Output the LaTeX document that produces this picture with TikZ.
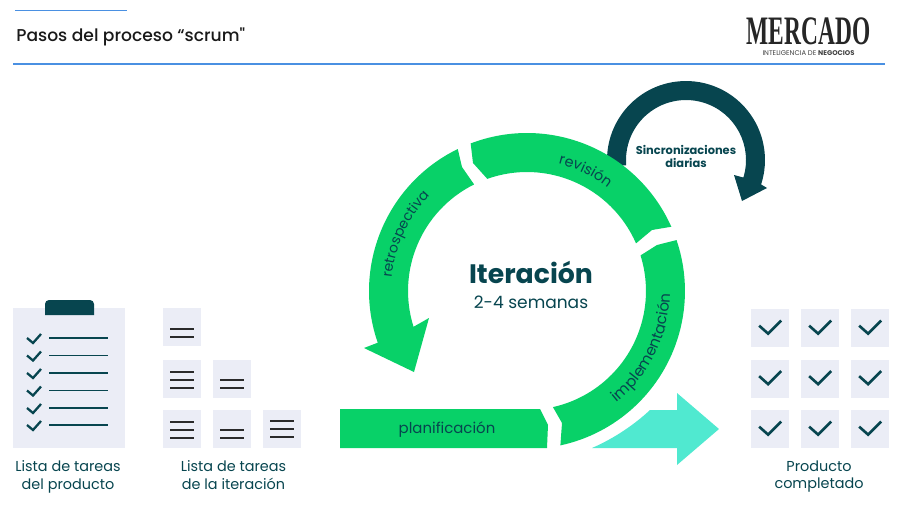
\documentclass[tikz,border=0pt]{standalone}
\usepackage{fontspec}
\setmainfont{Poppins}
\newfontfamily\logofont{Liberation Serif}
\newfontfamily\mediumfont{Poppins Medium}
\usetikzlibrary{positioning,calc,decorations.text}
\definecolor{ringgreen}{HTML}{08D168}
\definecolor{darkteal}{HTML}{07454F}
\definecolor{aquaarrow}{HTML}{50E9D0}
\definecolor{tilegray}{HTML}{EBEDF6}
\definecolor{ruleblue}{HTML}{4A90E2}
\definecolor{bardark}{HTML}{2A2A2A}
\tikzset{
  tile/.style={rectangle,fill=tilegray,inner sep=0pt,minimum size=0.76cm},
  headrule/.style={draw=ruleblue,line width=1pt},
  tickmark/.style={draw=darkteal,line width=1.5pt,line join=miter},
  smalltick/.style={draw=darkteal,line width=1.3pt},
  listline/.style={draw=darkteal,line width=1pt},
  barline/.style={draw=bardark,line width=1pt},
  caption/.style={font=\fontsize{8.2}{10.2}\selectfont,text=darkteal,align=center,inner sep=0pt},
  ringlabel/.style={font=\fontsize{8.5}{9}\selectfont,text=darkteal,inner sep=0pt},
  ringtext/.style 2 args={decorate,decoration={text along path,text align=center,text={|\fontsize{#1}{9}\selectfont\color{darkteal}|#2}}},
}
\begin{document}
\begin{tikzpicture}[x=0.02cm,y=0.02cm]
  \useasboundingbox (0,0) rectangle (900,-521);
  % header
  \draw[headrule] (15,-10.5) -- (127,-10.5);
  \draw[headrule] (13,-64) -- (885,-64);
  \node[anchor=base west,inner sep=0pt,font=\mediumfont\fontsize{9.75}{11}\selectfont,text=black!90] (title) at (16,-41) {Pasos del proceso “scrum"};
  \node[xscale=0.58,inner sep=0pt,font=\logofont\fontsize{23}{24}\selectfont\bfseries,text=black!85] (logo) at (808.5,-31) {MERCADO};
  \node[below=3pt of logo,inner sep=0pt,font=\fontsize{3.9}{4}\selectfont,text=black!75] (sublogo) {INTELIGENCIA DE \textbf{NEGOCIOS}};
  % clipboard
  \fill[tilegray] (13,-308) rectangle (125,-448);
  \fill[darkteal] (45,-315) -- (45,-304) arc[start angle=180,end angle=90,radius=0.08cm] -- (90,-300)
    arc[start angle=90,end angle=0,radius=0.08cm] -- (94,-315) -- cycle;
  \coordinate (clip) at (68,-449);
  \foreach \rowy in {338,355.5,373,390.5,408,425}{
    \draw[smalltick] (27,-\rowy) -- (33,-\rowy-5) -- (41,-\rowy+4);
    \draw[listline] (49,-\rowy) -- (108,-\rowy);
  }
  \node[caption,below=0.22cm of clip] (backlog) {Lista de tareas\\del producto};
  % iteration tiles
  \foreach \tx/\ty/\lines in {182/327/{329,337},182/378.5/{372,380,388},232/378.5/{380,388},182/429/{422,430,438},232/429/{430,438},282/429/{421,429,437}}{
    \node[tile] at (\tx,-\ty) {};
    \foreach \ly in \lines
      \draw[barline] (\tx-12,-\ly) -- (\tx+12,-\ly);
  }
  \coordinate (sprint) at (233.5,-449);
  \node[caption,below=0.22cm of sprint] (sprintlog) {Lista de tareas\\de la iteración};
  % finished tiles
  \foreach \tx in {769.5,819.5,869.5}
    \foreach \ty in {328,378.5,429}{
      \node[tile] (done) at (\tx,-\ty) {};
      \draw[tickmark] ($(done.north west)+(9,-17)$) -- ($(done.north west)+(18,-25)$) -- ($(done.north west)+(31,-12)$);
    }
  \coordinate (finish) at (819,-449);
  \node[caption,below=0.22cm of finish] (product) {Producto\\completado};
  % daily arrow
  \coordinate (daily) at (686,-160);
  \fill[darkteal] ($(daily)+(185:1.58cm)$) arc[start angle=185,end angle=-18,radius=1.58cm]
    -- (767,-188) -- (742,-201) -- (734,-175) -- ($(daily)+(-17:1.2cm)$)
    arc[start angle=-17,end angle=185,radius=1.2cm] -- cycle;
  \node[font=\fontsize{6.5}{7.4}\selectfont\bfseries,text=darkteal,align=center,inner sep=0pt] (sync) at (686,-156.5) {Sincronizaciones\\diarias};
  % output arrow
  \fill[aquaarrow] (592,-448) .. controls (615,-438) and (635,-424) .. (650,-410) -- (677,-410) -- (677,-393)
    -- (719,-429) -- (677,-465) -- (677,-448) -- cycle;
  % ring
  \coordinate (ctr) at (527,-291);
  \fill[ringgreen] ($(ctr)+(110.9:3.16cm)$) arc[start angle=110.9,end angle=24,radius=3.16cm]
    -- (652,-230) -- ($(ctr)+(23.6:2.38cm)$) arc[start angle=23.6,end angle=109.5,radius=2.38cm]
    -- (473,-163) -- cycle;
  \fill[ringgreen] ($(ctr)+(-77.8:3.16cm)$) arc[start angle=-77.8,end angle=18.8,radius=3.16cm]
    -- (657,-245) -- ($(ctr)+(17.4:2.38cm)$) arc[start angle=17.4,end angle=-77.4,radius=2.38cm]
    -- (562,-423) -- cycle;
  \fill[ringgreen] ($(ctr)+(116:3.16cm)$) arc[start angle=116,end angle=199.1,radius=3.16cm]
    -- (364,-348) -- (414,-372) -- (429,-318) -- ($(ctr)+(197.5:2.38cm)$)
    arc[start angle=197.5,end angle=116.4,radius=2.38cm] -- (462,-167) -- cycle;
  \fill[ringgreen] (340,-409) -- (540,-409) -- (548,-425) -- (547,-448) -- (340,-448) -- cycle;
  \node[ringlabel] (plan) at (447,-430) {planificación};
  \path[ringtext={7.9}{retrospectiva}] ($(ctr)+(177:2.72cm)$) arc[start angle=177,end angle=133,radius=2.72cm];
  \path[ringtext={8.2}{revisión}] ($(ctr)+(82:2.62cm)$) arc[start angle=82,end angle=46,radius=2.62cm];
  \path[ringtext={8.6}{implementación}] ($(ctr)+(-60:2.86cm)$) arc[start angle=-60,end angle=8,radius=2.86cm];
  % centre
  \node[font=\fontsize{15.2}{17}\selectfont\bfseries,text=darkteal,inner sep=0pt] (iter) at (531,-272) {Iteración};
  \node[font=\fontsize{9.7}{11}\selectfont,text=darkteal,inner sep=0pt,below=0.25cm of iter] (weeks) {2-4 semanas};
\end{tikzpicture}
\end{document}
